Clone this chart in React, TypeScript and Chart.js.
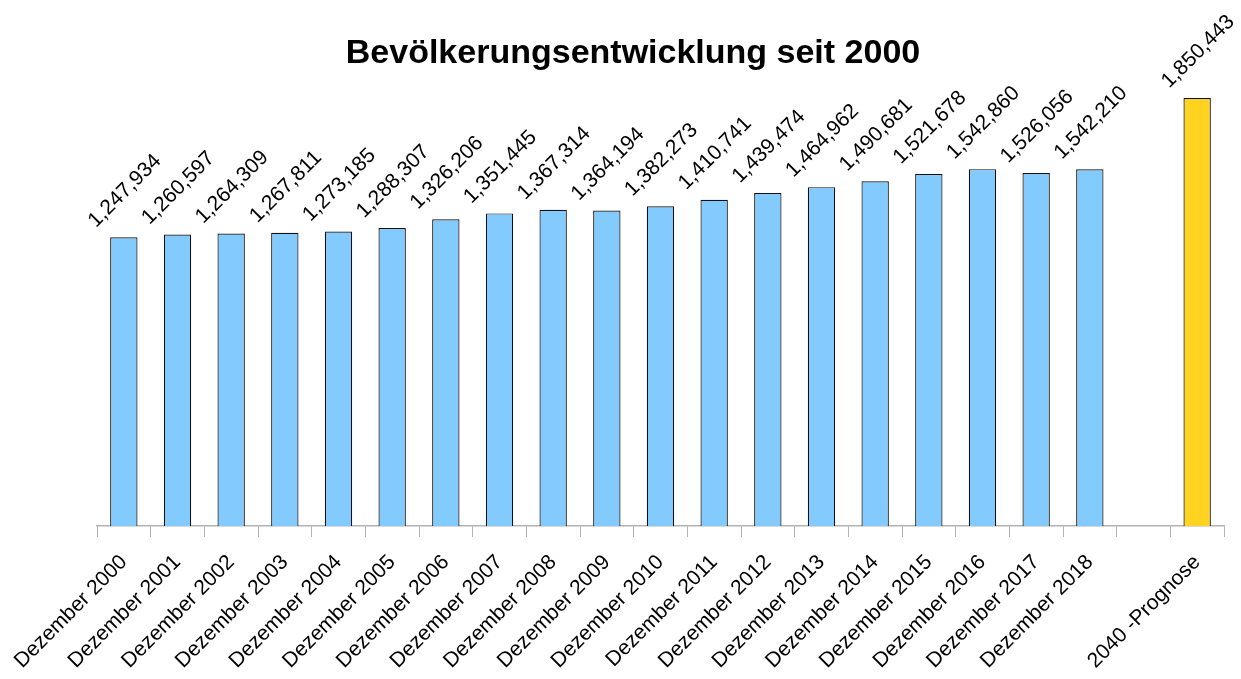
import React, { useEffect, useRef } from "react";
import { Chart, registerables } from "chart.js";

Chart.register(...registerables);

const categories: string[] = [
  "Dezember 2000", "Dezember 2001", "Dezember 2002", "Dezember 2003", "Dezember 2004",
  "Dezember 2005", "Dezember 2006", "Dezember 2007", "Dezember 2008", "Dezember 2009",
  "Dezember 2010", "Dezember 2011", "Dezember 2012", "Dezember 2013", "Dezember 2014",
  "Dezember 2015", "Dezember 2016", "Dezember 2017", "Dezember 2018", "", "2040 -Prognose",
];

const population: (number | null)[] = [
  1247934, 1260597, 1264309, 1267811, 1273185, 1288307, 1326206, 1351445, 1367314, 1364194,
  1382273, 1410741, 1439474, 1464962, 1490681, 1521678, 1542860, 1526056, 1542210, null, 1850443,
];

const isForecast: boolean[] = categories.map((c) => c.startsWith("2040"));

const TITLE = "Bevölkerungsentwicklung seit 2000";
const FONT = "'Liberation Sans', Arial, sans-serif";

const labelPlugin = {
  id: "valueLabels",
  afterDatasetsDraw(chart: any) {
    const ctx = chart.ctx;
    const meta = chart.getDatasetMeta(0);
    ctx.save();
    ctx.font = `21px ${FONT}`;
    ctx.fillStyle = "#000";
    ctx.textAlign = "center";
    ctx.textBaseline = "middle";
    meta.data.forEach((bar: any, i: number) => {
      const v = population[i];
      if (v == null) return;
      const text = v.toLocaleString("en-US");
      const w = ctx.measureText(text).width;
      const h = 15;
      const half = ((w + h) * Math.SQRT1_2) / 2;
      ctx.save();
      ctx.translate(bar.x + 1, bar.y - 8 - half);
      ctx.rotate(-Math.PI / 4);
      ctx.fillText(text, 0, 0);
      ctx.restore();
    });
    ctx.font = `bold 34px ${FONT}`;
    ctx.textAlign = "center";
    ctx.textBaseline = "middle";
    ctx.fillText(TITLE, 633, 54);
    ctx.restore();
  },
};

export default function App() {
  const ref = useRef<HTMLCanvasElement | null>(null);
  useEffect(() => {
    document.body.style.margin = "0";
    if (!ref.current) return;
    const yMax = Math.max(...(population.filter((v) => v != null) as number[]));
    const chart = new Chart(ref.current, {
      type: "bar",
      data: {
        labels: categories,
        datasets: [
          {
            data: population,
            backgroundColor: isForecast.map((f) => (f ? "#ffd320" : "#83caff")),
            borderColor: "#111",
            borderWidth: 1.2,
            barPercentage: 0.51,
            categoryPercentage: 1,
          },
        ],
      },
      options: {
        animation: false,
        responsive: false,
        layout: { padding: { top: 98, left: 97, right: 17, bottom: 0 } },
        plugins: { legend: { display: false }, title: { display: false }, tooltip: { enabled: false } },
        scales: {
          y: { display: false, min: 0, max: yMax },
          x: {
            afterFit: (s: any) => {
              s.height = 153;
            },
            border: { display: true, color: "#b3b3b3", width: 1.5 },
            grid: { display: true, drawOnChartArea: false, drawTicks: true, tickLength: 11, color: "#b3b3b3", offset: true },
            ticks: {
              autoSkip: false,
              minRotation: 45,
              maxRotation: 45,
              color: "#000",
              font: { family: FONT, size: 21 },
              padding: 13,
            },
          },
        },
      },
      plugins: [labelPlugin],
    });
    return () => chart.destroy();
  }, []);
  return (
    <div style={{ position: "absolute", left: 0, top: 0, width: 1241, height: 679, background: "#fff" }}>
      <canvas ref={ref} width={1241} height={679} style={{ width: 1241, height: 679 }} />
    </div>
  );
}
